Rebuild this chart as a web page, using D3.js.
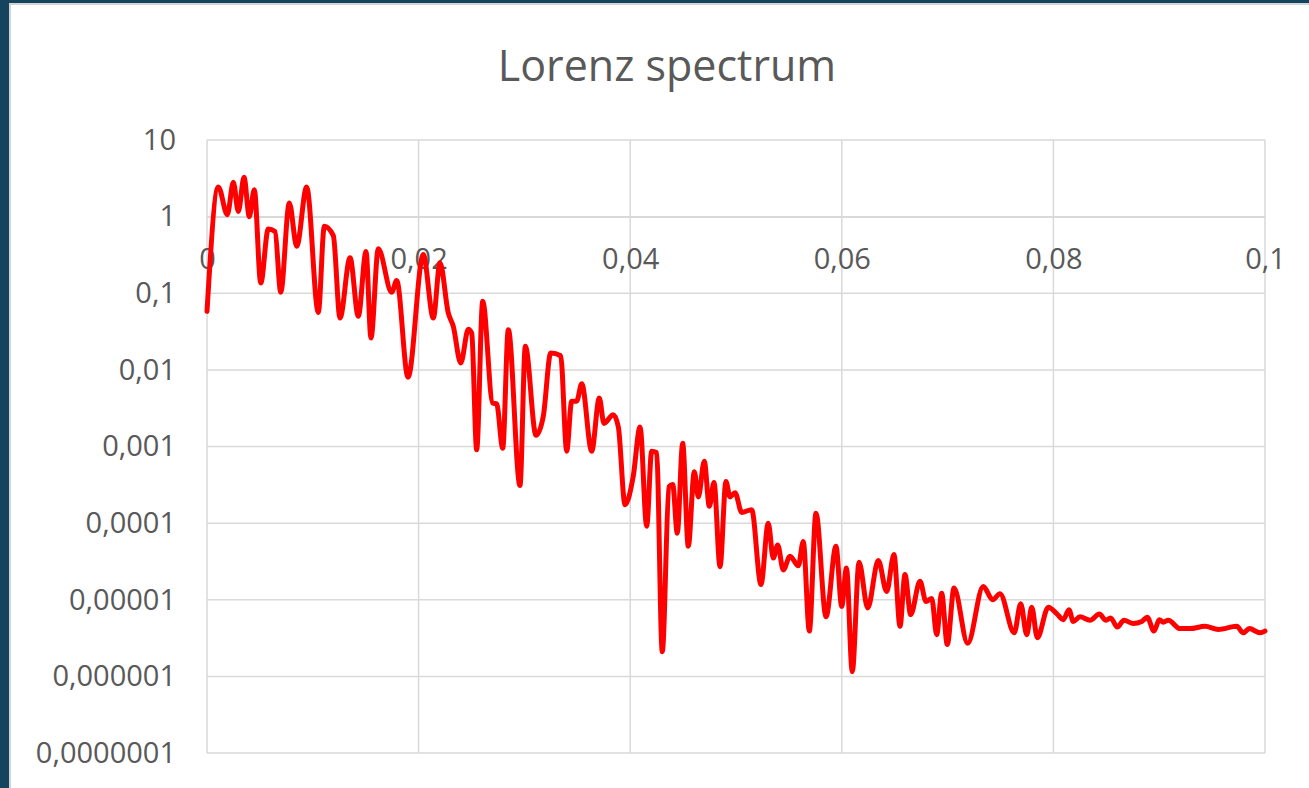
<!DOCTYPE html>
<html>
<head>
<meta charset="utf-8">
<script src="https://cdn.jsdelivr.net/npm/d3@7"></script>
<style>
    html, body { margin: 0; padding: 0; background: #15445f; }
    svg { display: block; }
    .tick text { font-family: "Open Sans", sans-serif; fill: #595959; }
</style>
</head>
<body>
<svg id="chart" width="1309" height="788"></svg>
<script>
(function () {

    var title = 'Lorenz spectrum';

    // frequency (x) and spectral power (y)
    var freq = [
        0, 0.00107, 0.00192, 0.00249, 0.00296, 0.0035, 0.0040, 0.00447, 0.00508, 0.00579,
        0.00643, 0.00697, 0.00778, 0.00848, 0.00942, 0.01052, 0.01109, 0.01194, 0.01257, 0.01352,
        0.0143, 0.01503, 0.0155, 0.01619, 0.01746, 0.01793, 0.019, 0.02044, 0.02139, 0.02202,
        0.02281, 0.02328, 0.02398, 0.0247, 0.02502, 0.02549, 0.02606, 0.027, 0.02738, 0.02795,
        0.02848, 0.02958, 0.03009, 0.0311, 0.03179, 0.03249, 0.03343, 0.034, 0.03447, 0.03494,
        0.03542, 0.03636, 0.03708, 0.03752, 0.0384, 0.03888, 0.03951, 0.04029, 0.04093, 0.04156,
        0.04203, 0.0425, 0.04303, 0.04367, 0.04402, 0.04445, 0.04496, 0.04549, 0.04606, 0.04644,
        0.047, 0.04748, 0.04792, 0.04849, 0.04905, 0.04943, 0.04991, 0.05054, 0.05148, 0.05236,
        0.05305, 0.05352, 0.05394, 0.05447, 0.05511, 0.05589, 0.05636, 0.05693, 0.05756, 0.05851,
        0.05945, 0.05999, 0.06044, 0.06099, 0.06163, 0.06245, 0.06345, 0.06424, 0.06493, 0.0655,
        0.06597, 0.06651, 0.06739, 0.06796, 0.0685, 0.06897, 0.06944, 0.06997, 0.07061, 0.0719,
        0.07337, 0.07426, 0.07495, 0.0763, 0.07691, 0.07748, 0.07795, 0.07848, 0.07952, 0.08031,
        0.08094, 0.08147, 0.08188, 0.08251, 0.08346, 0.08434, 0.08497, 0.08541, 0.08604, 0.08667,
        0.08755, 0.08835, 0.08887, 0.08951, 0.09001, 0.09039, 0.09086, 0.09197, 0.09291, 0.09433,
        0.09559, 0.09733, 0.09795, 0.09852, 0.09953, 0.1
    ];
    var power = [
        0.058, 2.44, 1.06, 2.8, 1.17, 3.26, 1.0, 2.25, 0.136, 0.69,
        0.64, 0.103, 1.51, 0.41, 2.44, 0.056, 0.75, 0.565, 0.0475, 0.29,
        0.05, 0.35, 0.026, 0.38, 0.103, 0.147, 0.008, 0.32, 0.0475, 0.25,
        0.055, 0.037, 0.0123, 0.034, 0.030, 0.00091, 0.0785, 0.0037, 0.0036, 0.00095,
        0.0335, 0.00031, 0.0204, 0.0014, 0.0025, 0.0166, 0.0153, 0.00087, 0.0039, 0.0039,
        0.0066, 0.00087, 0.0043, 0.002, 0.0026, 0.0018, 0.000174, 0.00041, 0.0018, 0.000091,
        0.00087, 0.00083, 0.0000021, 0.0003, 0.00032, 0.000074, 0.0011, 0.00005, 0.00047, 0.00022,
        0.00064, 0.000166, 0.00034, 0.000027, 0.00035, 0.00022, 0.00025, 0.000138, 0.00015, 0.0000158,
        0.0001, 0.000035, 0.000052, 0.0000245, 0.000037, 0.0000278, 0.0000575, 0.0000039, 0.000135, 0.000006,
        0.00005, 0.0000082, 0.000026, 0.00000115, 0.0000309, 0.0000078, 0.0000326, 0.0000128, 0.0000389, 0.0000045,
        0.0000213, 0.0000064, 0.0000174, 0.0000095, 0.0000104, 0.0000035, 0.0000122, 0.0000026, 0.0000142, 0.0000027,
        0.0000149, 0.00001, 0.000012, 0.0000037, 0.0000089, 0.0000035, 0.000008, 0.0000032, 0.000008, 0.0000066,
        0.0000055, 0.0000074, 0.0000052, 0.000006, 0.0000054, 0.0000065, 0.0000054, 0.0000058, 0.0000044, 0.0000054,
        0.0000049, 0.0000052, 0.0000059, 0.0000039, 0.0000055, 0.0000051, 0.0000054, 0.0000042, 0.0000042, 0.0000045,
        0.0000041, 0.0000045, 0.0000037, 0.0000042, 0.0000037, 0.0000039
    ];

    var xTicks = [0, 0.02, 0.04, 0.06, 0.08, 0.1];
    var xTickLabels = ['0', '0,02', '0,04', '0,06', '0,08', '0,1'];
    var yTicks = [10, 1, 0.1, 0.01, 0.001, 0.0001, 0.00001, 0.000001, 0.0000001];
    var yTickLabels = ['10', '1', '0,1', '0,01', '0,001', '0,0001', '0,00001', '0,000001', '0,0000001'];

    var plot = { left: 207, right: 1265, top: 140, bottom: 753 };
    var gridColor = '#d9d9d9';

    var svg = d3.select('#chart');

    // white chart panel inside the dark frame
    svg.append('rect')
        .attr('x', 10).attr('y', 4)
        .attr('width', 1309).attr('height', 800)
        .attr('fill', '#ffffff')
        .attr('stroke', '#d4d4d4')
        .attr('stroke-width', 2);

    var x = d3.scaleLinear().domain([0, 0.1]).range([plot.left, plot.right]);
    var y = d3.scaleLog().domain([0.0000001, 10]).range([plot.bottom, plot.top]);

    // gridlines
    svg.append('g')
        .selectAll('line.h')
        .data(yTicks)
        .join('line')
            .attr('x1', plot.left).attr('x2', plot.right)
            .attr('y1', function (d) { return y(d); })
            .attr('y2', function (d) { return y(d); })
            .attr('stroke', gridColor)
            .attr('stroke-width', 1.5);

    svg.append('g')
        .selectAll('line.v')
        .data(xTicks)
        .join('line')
            .attr('x1', function (d) { return x(d); })
            .attr('x2', function (d) { return x(d); })
            .attr('y1', plot.top).attr('y2', plot.bottom)
            .attr('stroke', gridColor)
            .attr('stroke-width', 1.5);

    // y axis labels
    var yAxis = d3.axisLeft(y)
        .tickValues(yTicks)
        .tickFormat(function (d, i) { return yTickLabels[i]; })
        .tickSize(0)
        .tickPadding(31);

    svg.append('g')
        .attr('transform', 'translate(' + plot.left + ',0)')
        .call(yAxis)
        .call(function (g) { g.select('.domain').remove(); })
        .selectAll('text')
            .style('font-size', '29px');

    // x axis crosses at y = 1
    var xAxis = d3.axisBottom(x)
        .tickValues(xTicks)
        .tickFormat(function (d, i) { return xTickLabels[i]; })
        .tickSize(0)
        .tickPadding(52);

    svg.append('g')
        .attr('transform', 'translate(0,' + y(1) + ')')
        .call(xAxis)
        .call(function (g) { g.select('.domain').attr('stroke', gridColor).attr('stroke-width', 1.5); })
        .selectAll('text')
            .attr('dy', 0)
            .style('font-size', '29px');

    // the spectrum line
    var line = d3.line()
        .x(function (d, i) { return x(freq[i]); })
        .y(function (d) { return y(d); })
        .curve(d3.curveMonotoneX);

    svg.append('path')
        .datum(power)
        .attr('d', line)
        .attr('fill', 'none')
        .attr('stroke', '#ff0000')
        .attr('stroke-width', 5)
        .attr('stroke-linejoin', 'round')
        .attr('stroke-linecap', 'round');

    svg.append('text')
        .attr('x', 667)
        .attr('y', 81)
        .attr('text-anchor', 'middle')
        .style('font-family', '"Open Sans", sans-serif')
        .style('font-size', '43px')
        .style('fill', '#595959')
        .text(title);

})();
</script>
</body>
</html>
